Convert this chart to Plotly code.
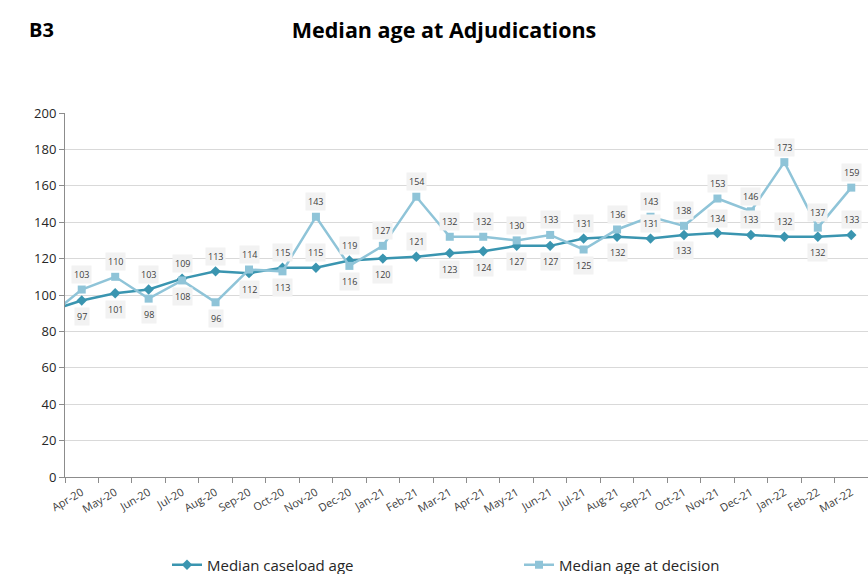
import plotly.graph_objects as go

# ---- data ----
months = ["Mar-20", "Apr-20", "May-20", "Jun-20", "Jul-20", "Aug-20", "Sep-20", "Oct-20",
          "Nov-20", "Dec-20", "Jan-21", "Feb-21", "Mar-21", "Apr-21", "May-21", "Jun-21",
          "Jul-21", "Aug-21", "Sep-21", "Oct-21", "Nov-21", "Dec-21", "Jan-22", "Feb-22",
          "Mar-22"]
caseload_age = [91, 97, 101, 103, 109, 113, 112, 115, 115, 119, 120, 121, 123, 124, 127,
                127, 131, 132, 131, 133, 134, 133, 132, 132, 133]
decision_age = [88, 103, 110, 98, 108, 96, 114, 113, 143, 116, 127, 154, 132, 132, 130,
                133, 125, 136, 143, 138, 153, 146, 173, 137, 159]
y_ticks = [0, 20, 40, 60, 80, 100, 120, 140, 160, 180, 200]

DARK = "#3A95B0"
LIGHT = "#8FC4D8"
FONT = "Open Sans"

W, H = 868, 574
L, R, T, B = 65, 0, 113, 97
PW, PH = W - L - R, H - T - B

fig = go.Figure()
fig.add_trace(go.Scatter(
    x=months, y=caseload_age, mode="lines+markers", name="Median caseload age",
    line=dict(color=DARK, width=2.5),
    marker=dict(symbol="diamond", size=8, color=DARK),
))
fig.add_trace(go.Scatter(
    x=months, y=decision_age, mode="lines+markers", name="Median age at decision",
    line=dict(color=LIGHT, width=2.5),
    marker=dict(symbol="square", size=8, color=LIGHT),
))

# data labels (first month lies outside the visible range)
ann = []
lab_font = dict(family=FONT, size=9, color="#404040")
for i in range(1, len(months)):
    c, d = caseload_age[i], decision_age[i]
    below = 0 < d - c < 10
    ann.append(dict(x=months[i], y=c, xref="x", yref="y", text=str(c), showarrow=False,
                    yshift=-16 if below else 15, font=lab_font, bgcolor="#F2F2F2",
                    borderpad=2))
for i in range(1, len(months)):
    c, d = caseload_age[i], decision_age[i]
    above = d >= c
    ann.append(dict(x=months[i], y=d, xref="x", yref="y", text=str(d), showarrow=False,
                    yshift=15 if above else -16, font=lab_font, bgcolor="#F2F2F2",
                    borderpad=2))

ann.append(dict(text="<b>B3</b>", x=(27 - L) / PW, y=1 + (T - 30) / PH,
                xref="paper", yref="paper",
                showarrow=False, font=dict(family=FONT, size=20, color="#000000"),
                xanchor="left", yanchor="middle"))

fig.update_layout(
    width=W, height=H,
    margin=dict(l=L, r=R, t=T, b=B),
    paper_bgcolor="white", plot_bgcolor="white",
    font=dict(family=FONT, color="#404040"),
    title=dict(text="<b>Median age at Adjudications</b>", x=444 / W, y=1 - 30 / H,
               xref="container", yref="container", xanchor="center", yanchor="middle",
               font=dict(family=FONT, size=21.5, color="#000000")),
    annotations=ann,
    showlegend=True,
    legend=dict(orientation="h", xref="container", yref="container",
                x=167 / W, y=1 - 565 / H, xanchor="left", yanchor="middle",
                entrywidth=307, entrywidthmode="pixels",
                font=dict(family=FONT, size=15, color="#262626"), bgcolor="rgba(0,0,0,0)"),
)
fig.update_xaxes(
    type="category", range=[0.5, len(months) - 0.5],
    tickangle=-30, tickfont=dict(family=FONT, size=11, color="#404040"),
    ticks="outside", ticklen=5, tickcolor="#8C8C8C", tickson="boundaries",
    ticklabelstandoff=4,
    showline=True, linecolor="#8C8C8C", linewidth=1, showgrid=False,
)
fig.update_yaxes(
    range=[0, 200], tickvals=y_ticks,
    tickfont=dict(family=FONT, size=13, color="#262626"),
    ticks="outside", ticklen=5, tickcolor="#8C8C8C",
    showline=True, linecolor="#8C8C8C", linewidth=1,
    showgrid=True, gridcolor="#D9D9D9", gridwidth=1, zeroline=False,
)

fig.write_html("out.html")
